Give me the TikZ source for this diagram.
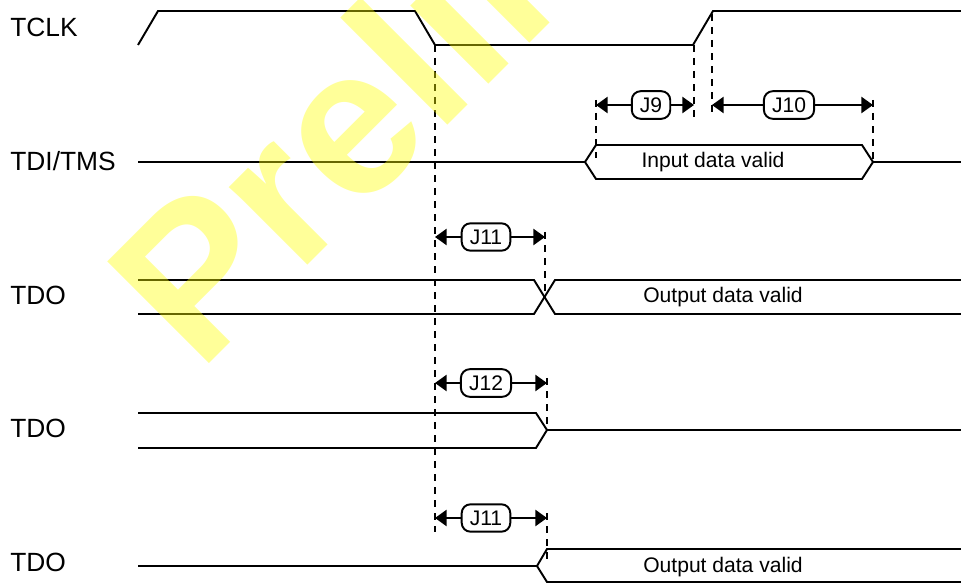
\documentclass[tikz,border=0pt]{standalone}
\usepackage{fontspec}
\setmainfont{Liberation Sans}
\usepackage{tikz}
\usetikzlibrary{arrows.meta}
\definecolor{ink}{HTML}{000000}
\definecolor{mark}{HTML}{FFFF00}
\tikzset{
  sig/.style={draw=ink, line width=1.1pt},
  guide/.style={draw=ink, line width=1pt, dash pattern=on 4pt off 3.4pt},
  tarr/.style={draw=ink, line width=1pt, -{Triangle[length=6.6pt,width=9.2pt]}},
  tbox/.style={draw=ink, line width=1.1pt, rounded corners=5pt, inner xsep=4.6pt, inner ysep=3.6pt, font=\fontsize{12}{14}\selectfont},
  lbl/.style={anchor=base west, inner sep=0pt, font=\fontsize{15}{18}\selectfont},
  dat/.style={anchor=base, inner sep=0pt, font=\fontsize{12}{14}\selectfont},
  wm/.style={rotate=45, anchor=base west, inner sep=0pt, text=mark, text opacity=0.4, font=\bfseries\fontsize{119}{120}\selectfont}
}
\begin{document}
\begin{tikzpicture}[x=0.02cm, y=-0.02cm]
\useasboundingbox (0,0) rectangle (961,584);
% signal names
\node[lbl] (tclk) at (10,37) {TCLK};
\node[lbl] (tdi) at (10,171) {TDI/TMS};
\node[lbl] (tdoa) at (10,305) {TDO};
\node[lbl] (tdob) at (10,438) {TDO};
\node[lbl] (tdoc) at (10,571) {TDO};

% clock
\draw[sig] (138,45) -- (158,11) -- (415,11) -- (435,45) -- (693,45) -- (713,11) -- (961,11);
\coordinate (fall) at (435,45);
\coordinate (lowend) at (694,45);
\coordinate (rise) at (712,14);

% reference lines
\draw[guide] (fall) -- (435,532);
\draw[guide] (lowend) -- (694,118);
\draw[guide] (rise) -- (712,118);
\draw[guide] (596,100) -- (596,158);
\draw[guide] (873,100) -- (873,160);
\draw[guide] (545,232) -- (545,297);
\draw[guide] (547,378) -- (547,430);
\draw[guide] (547,513) -- (547,565);

% TDI/TMS
\draw[sig] (138,162) -- (585,162);
\draw[sig] (585,162) -- (596,145) -- (862,145) -- (873,162) -- (862,179) -- (596,179) -- cycle;
\draw[sig] (873,162) -- (961,162);
\node[dat] (indata) at (713,168) {Input data valid};

% setup / hold
\node[tbox] (j9) at (651,105) {J9};
\coordinate (j9l) at (596,105);
\coordinate (j9r) at (694,105);
\draw[tarr] (j9) -- (j9l);
\draw[tarr] (j9) -- (j9r);
\node[tbox] (j10) at (789,105) {J10};
\coordinate (j10l) at (712,105);
\coordinate (j10r) at (873,105);
\draw[tarr] (j10) -- (j10l);
\draw[tarr] (j10) -- (j10r);

% TDO valid
\draw[sig] (138,280) -- (534,280) -- (555,314) -- (961,314);
\draw[sig] (138,314) -- (534,314) -- (555,280) -- (961,280);
\node[dat] (outa) at (723,303) {Output data valid};
\node[tbox] (j11a) at (486,237) {J11};
\coordinate (j11al) at (435,237);
\coordinate (j11ar) at (545,237);
\draw[tarr] (j11a) -- (j11al);
\draw[tarr] (j11a) -- (j11ar);

% TDO to high-Z
\draw[sig] (138,413) -- (536,413) -- (547,430) -- (536,448) -- (138,448);
\draw[sig] (547,430) -- (961,430);
\node[tbox] (j12) at (486,383) {J12};
\coordinate (j12l) at (435,383);
\coordinate (j12r) at (547,383);
\draw[tarr] (j12) -- (j12l);
\draw[tarr] (j12) -- (j12r);

% high-Z to TDO valid
\draw[sig] (138,566) -- (537,566);
\draw[sig] (961,549) -- (547,549) -- (537,566) -- (547,582) -- (961,582);
\node[dat] (outb) at (723,572) {Output data valid};
\node[tbox] (j11b) at (486,518) {J11};
\coordinate (j11bl) at (435,518);
\coordinate (j11br) at (547,518);
\draw[tarr] (j11b) -- (j11bl);
\draw[tarr] (j11b) -- (j11br);

% watermark
\begin{scope}
\clip (0,0) rectangle (961,584);
\node[wm] (prelim) at (199,374) {Prelim};
\end{scope}
\end{tikzpicture}
\end{document}
